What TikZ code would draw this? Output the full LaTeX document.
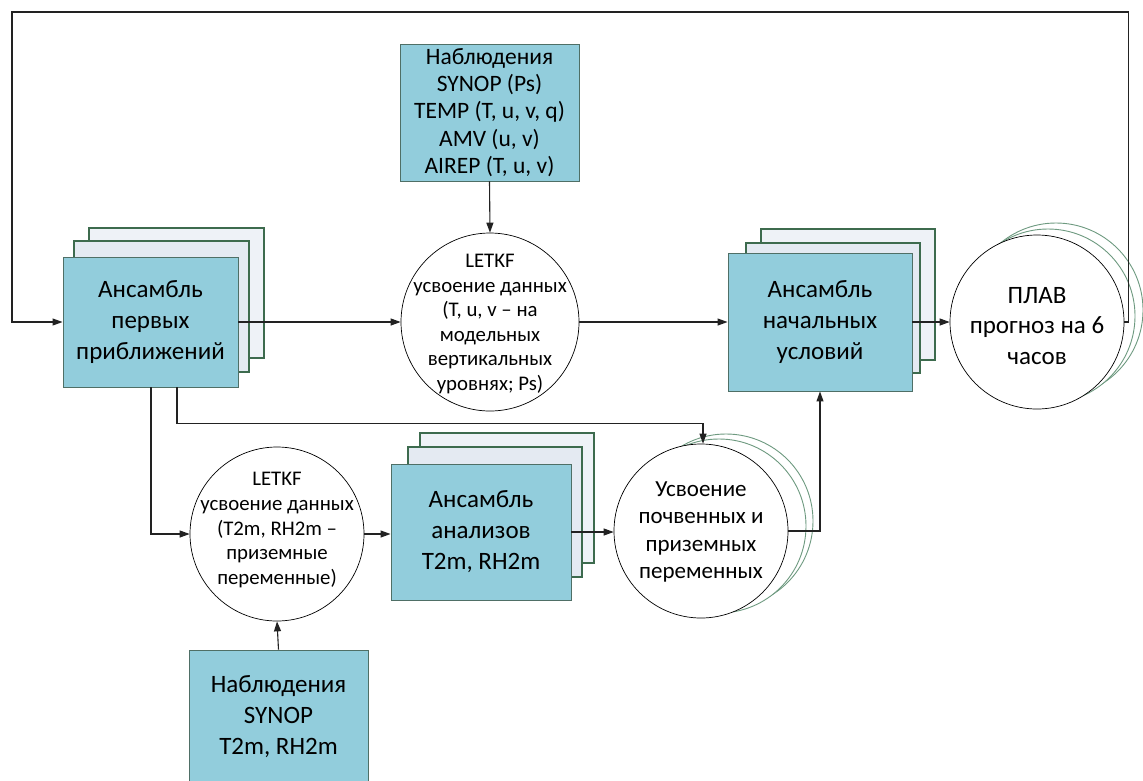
\documentclass[tikz,border=0pt]{standalone}
\usepackage{fontspec}
\setmainfont{Carlito}
\usetikzlibrary{arrows.meta,calc}
\definecolor{frontfill}{HTML}{92CDDC}
\definecolor{frontline}{HTML}{4F6F66}
\definecolor{backline}{HTML}{3D6B4E}
\definecolor{backfillA}{HTML}{E4EAF2}
\definecolor{backfillB}{HTML}{EEF2F7}
\definecolor{ringline}{HTML}{6E9A80}
\definecolor{conn}{HTML}{222222}
\tikzset{
  x=1pt,y=-1pt,
  frontbox/.style={draw=frontline,line width=0.9pt,fill=frontfill,inner sep=0pt,align=center,font=\fontsize{25}{31}\selectfont},
  backbox/.style={draw=backline,line width=1.1pt},
  procircle/.style={circle,draw=black,line width=0.7pt,fill=white,inner sep=0pt,minimum size=174pt},
  circtext/.style={inner sep=0pt,align=center},
  ring/.style={draw=ringline,line width=0.9pt,fill=white},
  arr/.style={draw=conn,line width=1.1pt,-{Triangle[length=10pt,width=7pt]}}
}
\begin{document}
\begin{tikzpicture}
\useasboundingbox (0,0) rectangle (1143,780);
% ----- ensemble of first guesses
\draw[backbox,fill=backfillB] (89,228) rectangle (264,358);
\draw[backbox,fill=backfillA] (74,241) rectangle (249,372);
\node[frontbox,minimum width=175pt,minimum height=130pt] (A) at (150.5,322) {Ансамбль\\первых\\приближений};
% ----- observations top
\node[frontbox,minimum width=179pt,minimum height=137pt,font=\fontsize{23.5}{27.4}\selectfont] (O1) at (489.5,112.5) {Наблюдения\\SYNOP (Ps)\\TEMP (T, u, v, q)\\AMV (u, v)\\AIREP (T, u, v)};
% ----- LETKF upper
\node[procircle,minimum size=178pt] (C1) at (490,322) {};
\node[circtext,font=\fontsize{20.8}{24.6}\selectfont] (C1t) at (490,324) {LETKF\\усвоение данных\\(T, u, v – на\\модельных\\вертикальных\\уровнях; Ps)};
% ----- ensemble of initial conditions
\draw[backbox,fill=backfillB] (761,229) rectangle (935,360);
\draw[backbox,fill=backfillA] (746,243) rectangle (920,373);
\node[frontbox,minimum width=184pt,minimum height=138pt] (B) at (820,322) {Ансамбль\\начальных\\условий};
% ----- forecast model
\draw[ring] (1056,310) circle (87);
\draw[ring] (1048,316) circle (87);
\node[procircle] (P) at (1037,322) {};
\node[circtext,font=\fontsize{25}{30.5}\selectfont] (Pt) at (1037,326) {ПЛАВ\\прогноз на 6\\часов};
% ----- LETKF lower
\node[procircle] (C2) at (277,534) {};
\node[circtext,font=\fontsize{20.8}{24.6}\selectfont] (C2t) at (277,530) {LETKF\\усвоение данных\\(T2m, RH2m –\\приземные\\переменные)};
% ----- ensemble of analyses
\draw[backbox,fill=backfillB] (420,433) rectangle (594,563);
\draw[backbox,fill=backfillA] (408,447) rectangle (582,577);
\node[frontbox,minimum width=180pt,minimum height=136pt] (Cb) at (481,532) {Ансамбль\\анализов\\T2m, RH2m};
% ----- soil/surface assimilation
\draw[ring] (726,521) circle (87);
\draw[ring] (719,526) circle (87);
\node[procircle] (C3) at (701,531) {};
\node[circtext,font=\fontsize{23}{27.5}\selectfont] (C3t) at (701,532) {Усвоение\\почвенных и\\приземных\\переменных};
% ----- observations bottom
\node[frontbox,minimum width=179pt,minimum height=134pt] (O2) at (278.5,717) {Наблюдения\\SYNOP\\T2m, RH2m};
% ----- connectors
\coordinate (tl) at (12,12);
\draw[arr] (O1.south) -- (C1.north);
\draw[arr] (A.east) -- (A.east -| C1.west);
\draw[arr] (C1.east) -- (C1.east -| B.west);
\draw[arr] (B.east) -- (B.east -| P.west);
\draw[arr] (P.east) -- ++(4,0) |- (tl) |- (A.west);
\draw[arr] ([xshift=0.5pt]A.south) |- (C2.west);
\draw[arr] ([xshift=26.5pt]A.south) -- ++(0,36) -| ([xshift=2pt]C3.north);
\draw[arr] (C2.east) -- (C2.east -| Cb.west);
\draw[arr] (Cb.east) -- (Cb.east -| C3.west);
\draw[arr] (C3.east) -| (B.south);
\draw[arr] (O2.north) -- (C2.south);
\end{tikzpicture}
\end{document}
